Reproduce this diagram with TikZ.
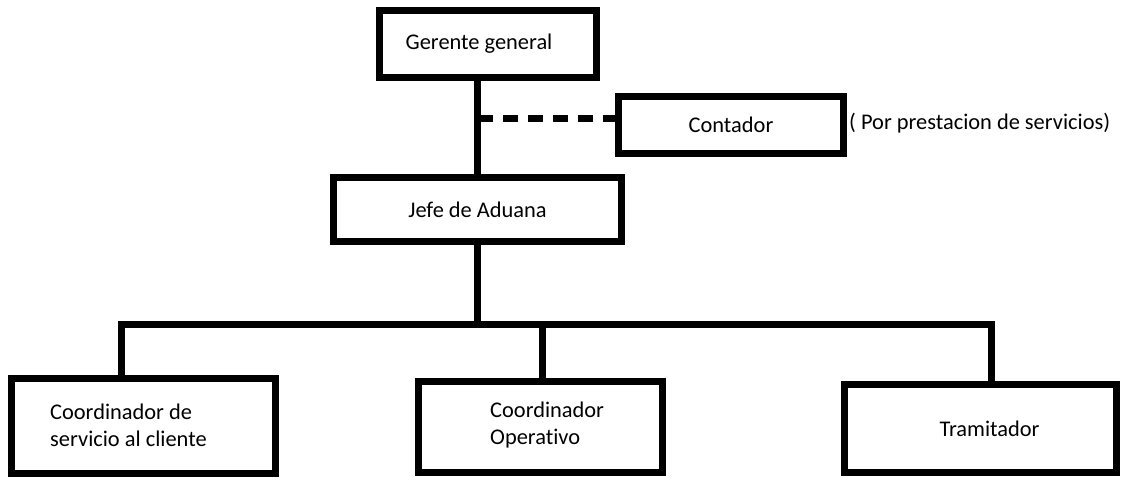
\documentclass[tikz,border=0pt]{standalone}
\usepackage{fontspec}
\setmainfont[Ligatures={NoCommon}]{Carlito}
\begin{document}
\begin{tikzpicture}[x=1pt,y=-1pt,
  box/.style={draw=black,line width=7pt,inner sep=0pt,font=\fontsize{22.4}{27}\selectfont},
  link/.style={draw=black,line width=7pt},
  dashlink/.style={draw=black,line width=7pt,dash pattern=on 15pt off 10pt},
  note/.style={inner sep=0pt,font=\fontsize{22.4}{27}\selectfont}]
\useasboundingbox[fill=white] (0,0) rectangle (1121,477);
% boxes
\node[box,minimum width=217pt,minimum height=67pt] (gerente) at (488,44) {Gerente general\hspace*{18pt}};
\node[box,minimum width=225pt,minimum height=57pt] (contador) at (731,125) {Contador};
\node[note,anchor=west] (nota) at (849,123) {( Por prestacion de servicios)};
\node[box,minimum width=288pt,minimum height=64pt] (jefe) at (477.5,209.5) {Jefe de Aduana};
\node[box,minimum width=264pt,minimum height=95pt] (coordsc) at (143.5,426) {};
\node[note,anchor=north west,align=left] (coordsctext) at (50,403.5) {Coordinador de\\servicio al cliente};
\node[box,minimum width=244pt,minimum height=91pt] (coordop) at (540.5,427) {};
\node[note,anchor=north west,align=left] (coordoptext) at (490,402) {Coordinador\\Operativo};
\node[box,minimum width=272pt,minimum height=88pt] (tram) at (980.5,428.5) {\hspace*{18pt}Tramitador};
% bar coordinates
\coordinate (barL) at (121.5,324);
\coordinate (barM) at (542.5,324);
\coordinate (barR) at (991.5,324);
\coordinate (dashL) at (478,118);
% connectors
\draw[link] (gerente.south -| jefe.north) -- (jefe.north);
\draw[dashlink] (dashL) -- (contador.west |- dashL);
\draw[link] (jefe.south) -- (jefe.south |- barM);
\draw[link] (coordsc.north -| barL) |- (barR) -- (tram.north -| barR);
\draw[link] (barM) -- (coordop.north -| barM);
\end{tikzpicture}
\end{document}
